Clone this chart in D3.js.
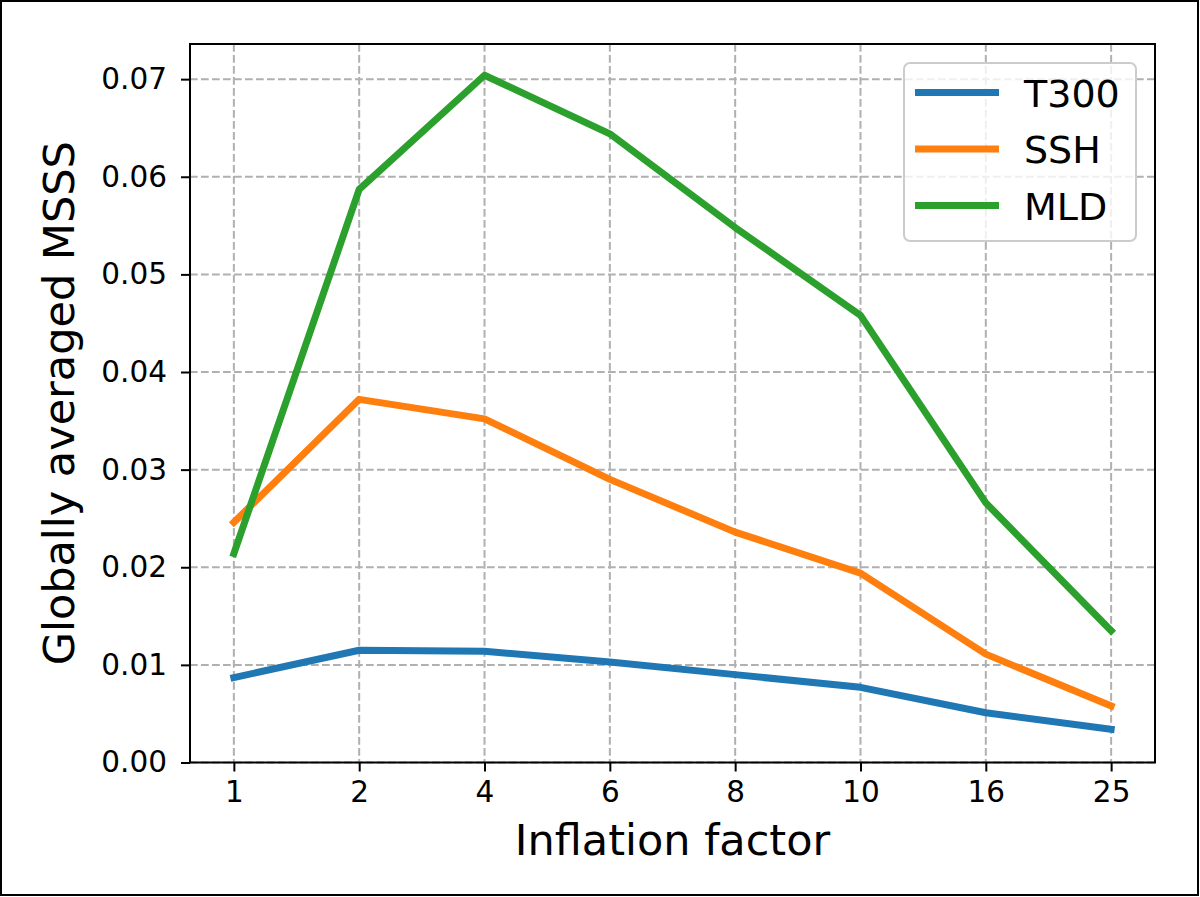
<!DOCTYPE html>
<html>
<head>
<meta charset="utf-8">
<script src="https://cdn.jsdelivr.net/npm/d3@7"></script>
<style>
  html, body { margin: 0; padding: 0; background: #fff; overflow: hidden; }
  svg { display: block; font-family: "DejaVu Sans", sans-serif; }
</style>
</head>
<body>
<svg id="chart"></svg>
<script>
const factors = ["1", "2", "4", "6", "8", "10", "16", "25"];
const t300 = [0.0087, 0.0115, 0.0114, 0.0103, 0.009, 0.0077, 0.0051, 0.0034];
const ssh = [0.0246, 0.0372, 0.0352, 0.029, 0.0236, 0.0194, 0.0111, 0.0058];
const mld = [0.0214, 0.0587, 0.0704, 0.0644, 0.0548, 0.0458, 0.0266, 0.0135];
const yTicks = [0, 0.01, 0.02, 0.03, 0.04, 0.05, 0.06, 0.07];
const seriesNames = ["T300", "SSH", "MLD"];
const seriesColors = ["#1f77b4", "#ff7f0e", "#2ca02c"];

const width = 1200;
const height = 897;
const margin = { top: 44, right: 45, bottom: 134.5, left: 190 };
const innerWidth = width - margin.left - margin.right;
const innerHeight = height - margin.top - margin.bottom;

const series = [t300, ssh, mld].map((values, i) => ({
  name: seriesNames[i],
  color: seriesColors[i],
  values,
}));

const svg = d3.select("#chart").attr("width", width).attr("height", height);

// outer frame of the picture
svg
  .append("rect")
  .attr("x", 1)
  .attr("y", 1)
  .attr("width", width - 3)
  .attr("height", height - 3)
  .attr("fill", "none")
  .attr("stroke", "#000")
  .attr("stroke-width", 2);

const g = svg
  .append("g")
  .attr("transform", `translate(${margin.left}, ${margin.top})`);

const x = d3.scalePoint().domain(factors).range([0, innerWidth]).padding(0.35);
const y = d3.scaleLinear().domain([0, 0.0736]).range([innerHeight, 0]);

// grid
const gridStyle = (sel) =>
  sel
    .attr("stroke", "#b0b0b0")
    .attr("stroke-width", 2)
    .attr("stroke-dasharray", "7.7, 3.3");

g.append("g")
  .selectAll("line")
  .data(factors)
  .join("line")
  .attr("x1", (d) => x(d))
  .attr("x2", (d) => x(d))
  .attr("y1", 0)
  .attr("y2", innerHeight)
  .call(gridStyle);

g.append("g")
  .selectAll("line")
  .data(yTicks)
  .join("line")
  .attr("x1", 0)
  .attr("x2", innerWidth)
  .attr("y1", (d) => y(d))
  .attr("y2", (d) => y(d))
  .call(gridStyle);

// axes
const xAxis = g
  .append("g")
  .attr("transform", `translate(0, ${innerHeight})`)
  .call(d3.axisBottom(x).tickSize(9).tickPadding(10).tickSizeOuter(0));

const yAxis = g
  .append("g")
  .call(
    d3
      .axisLeft(y)
      .tickValues(yTicks)
      .tickFormat(d3.format(".2f"))
      .tickSize(9)
      .tickPadding(14)
      .tickSizeOuter(0)
  );

[xAxis, yAxis].forEach((axis) => {
  axis.select(".domain").remove();
  axis.selectAll(".tick line").attr("stroke", "#000").attr("stroke-width", 2);
  axis
    .selectAll(".tick text")
    .attr("fill", "#000")
    .attr("font-size", 29.5)
    .attr("font-family", "DejaVu Sans");
});

// lines
const line = d3
  .line()
  .x((d, i) => x(factors[i]))
  .y((d) => y(d));

g.append("g")
  .selectAll("path")
  .data(series)
  .join("path")
  .attr("d", (d) => line(d.values))
  .attr("fill", "none")
  .attr("stroke", (d) => d.color)
  .attr("stroke-width", 7)
  .attr("stroke-linejoin", "round")
  .attr("stroke-linecap", "square");

// frame
g.append("rect")
  .attr("width", innerWidth)
  .attr("height", innerHeight)
  .attr("fill", "none")
  .attr("stroke", "#000")
  .attr("stroke-width", 2);

// axis labels
svg
  .append("text")
  .attr("x", margin.left + innerWidth / 2)
  .attr("y", 855)
  .attr("text-anchor", "middle")
  .attr("font-size", 43)
  .text("Inflation factor");

svg
  .append("text")
  .attr("transform", `translate(74, ${margin.top + innerHeight / 2}) rotate(-90)`)
  .attr("text-anchor", "middle")
  .attr("font-size", 43)
  .text("Globally averaged MSSS");

// legend
const legend = svg.append("g").attr("transform", "translate(904, 63)");

legend
  .append("rect")
  .attr("width", 232)
  .attr("height", 178)
  .attr("rx", 6)
  .attr("fill", "#fff")
  .attr("fill-opacity", 0.8)
  .attr("stroke", "#cccccc")
  .attr("stroke-width", 2);

const items = legend
  .selectAll(".legend")
  .data(series)
  .join("g")
  .attr("class", "legend")
  .attr("transform", (d, i) => `translate(0, ${29.5 + i * 56.5})`);

items
  .append("line")
  .attr("x1", 11)
  .attr("x2", 95)
  .attr("stroke", (d) => d.color)
  .attr("stroke-width", 7);

items
  .append("text")
  .attr("x", 120)
  .attr("y", 14)
  .attr("font-size", 38)
  .text((d) => d.name);
</script>
</body>
</html>
